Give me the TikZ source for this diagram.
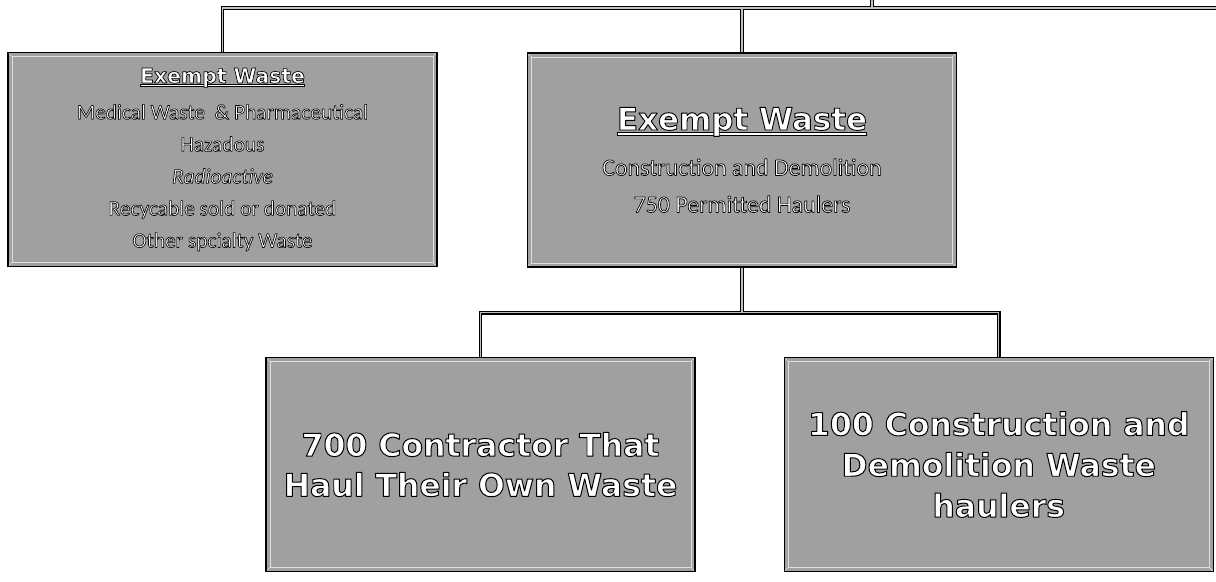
\documentclass[tikz,border=0pt]{standalone}
\usepackage{fontspec}
\setmainfont{Carlito}
\newfontfamily\heavyfont{DejaVu Sans Bold}
\usetikzlibrary{positioning}
\definecolor{boxgray}{RGB}{160,160,160}
% white letters with a black outline (text render mode 2)
\newcommand\olt[2][0.45]{{\color{white}\special{pdf:literal direct 0 G #1 w 1 j 2 Tr}#2\special{pdf:literal direct 0 Tr}}}
% white underline with a black rim
\newcommand\wline[1]{{\setbox0\hbox{#1}%
  \rlap{\color{black}\rule[-0.2em]{\wd0}{0.13em}}%
  \rlap{\color{white}\kern0.04em\rule[-0.17em]{\dimexpr\wd0-0.08em}{0.07em}}\box0}}
\tikzset{
box/.style={draw=black, line width=0.9pt, fill=boxgray, minimum width=10.72cm, minimum height=5.35cm, inner sep=0pt, align=center,
  path picture={
    \draw[gray!25, line width=0.4pt] ([shift={(0.1cm,-0.1cm)}]path picture bounding box.north west) rectangle ([shift={(-0.1cm,0.1cm)}]path picture bounding box.south east);
    \draw[gray!25, line width=0.4pt] (path picture bounding box.north west) -- ++(0.1cm,-0.1cm)
      (path picture bounding box.north east) -- ++(-0.1cm,-0.1cm)
      (path picture bounding box.south west) -- ++(0.1cm,0.1cm)
      (path picture bounding box.south east) -- ++(-0.1cm,0.1cm);}},
link/.style={draw=black, line width=0.8pt, double=gray!50, double distance=1.1pt}}

\begin{document}
\begin{tikzpicture}[x=0.025cm, y=-0.025cm]
\useasboundingbox (0,0) rectangle (1216,581);

% upper row
\node[box, font=\fontsize{15.2}{22.8}\selectfont] at (222.5,159.5) (exleft) {%
  {\heavyfont\fontsize{14.5}{17}\selectfont\wline{\olt[0.5]{Exempt Waste}}}\\[3pt]
  \olt{Medical Waste\ \ \& Pharmaceutical}\\
  \olt{Hazadous}\\
  \olt{\itshape Radioactive}\\
  \olt{Recycable sold or donated}\\
  \olt{Other spcialty Waste}};
\node[box, font=\fontsize{17}{26.3}\selectfont] at (742,160) (exmid) {%
  {\heavyfont\fontsize{22}{26}\selectfont\wline{\olt[0.65]{Exempt Waste}}}\\[6pt]
  \olt[0.5]{Construction and Demolition}\\
  \olt[0.5]{750 Permitted Haulers}};

% lower row
\node[box, font=\heavyfont\fontsize{22.4}{28.5}\selectfont] at (480.5,464.5) (ownhaul) {%
  \olt[0.7]{700 Contractor That}\\
  \olt[0.7]{Haul Their Own Waste}};
\node[box, font=\heavyfont\fontsize{22.4}{29}\selectfont, right=2.2cm of ownhaul] (cdhaul) {%
  \olt[0.7]{100 Construction and}\\
  \olt[0.7]{Demolition Waste}\\
  \olt[0.7]{haulers}};

% connectors
\coordinate (feed) at (872,0);
\coordinate (busend) at (1216,8);
\draw[link] (exleft.north) |- (busend) (feed) -- (feed |- busend) (exmid.north) -- (exmid.north |- busend);
\draw[link] (exmid.south) -- ++(0,45) coordinate (split) (ownhaul.north) |- (split) -| (cdhaul.north);
\end{tikzpicture}
\end{document}
